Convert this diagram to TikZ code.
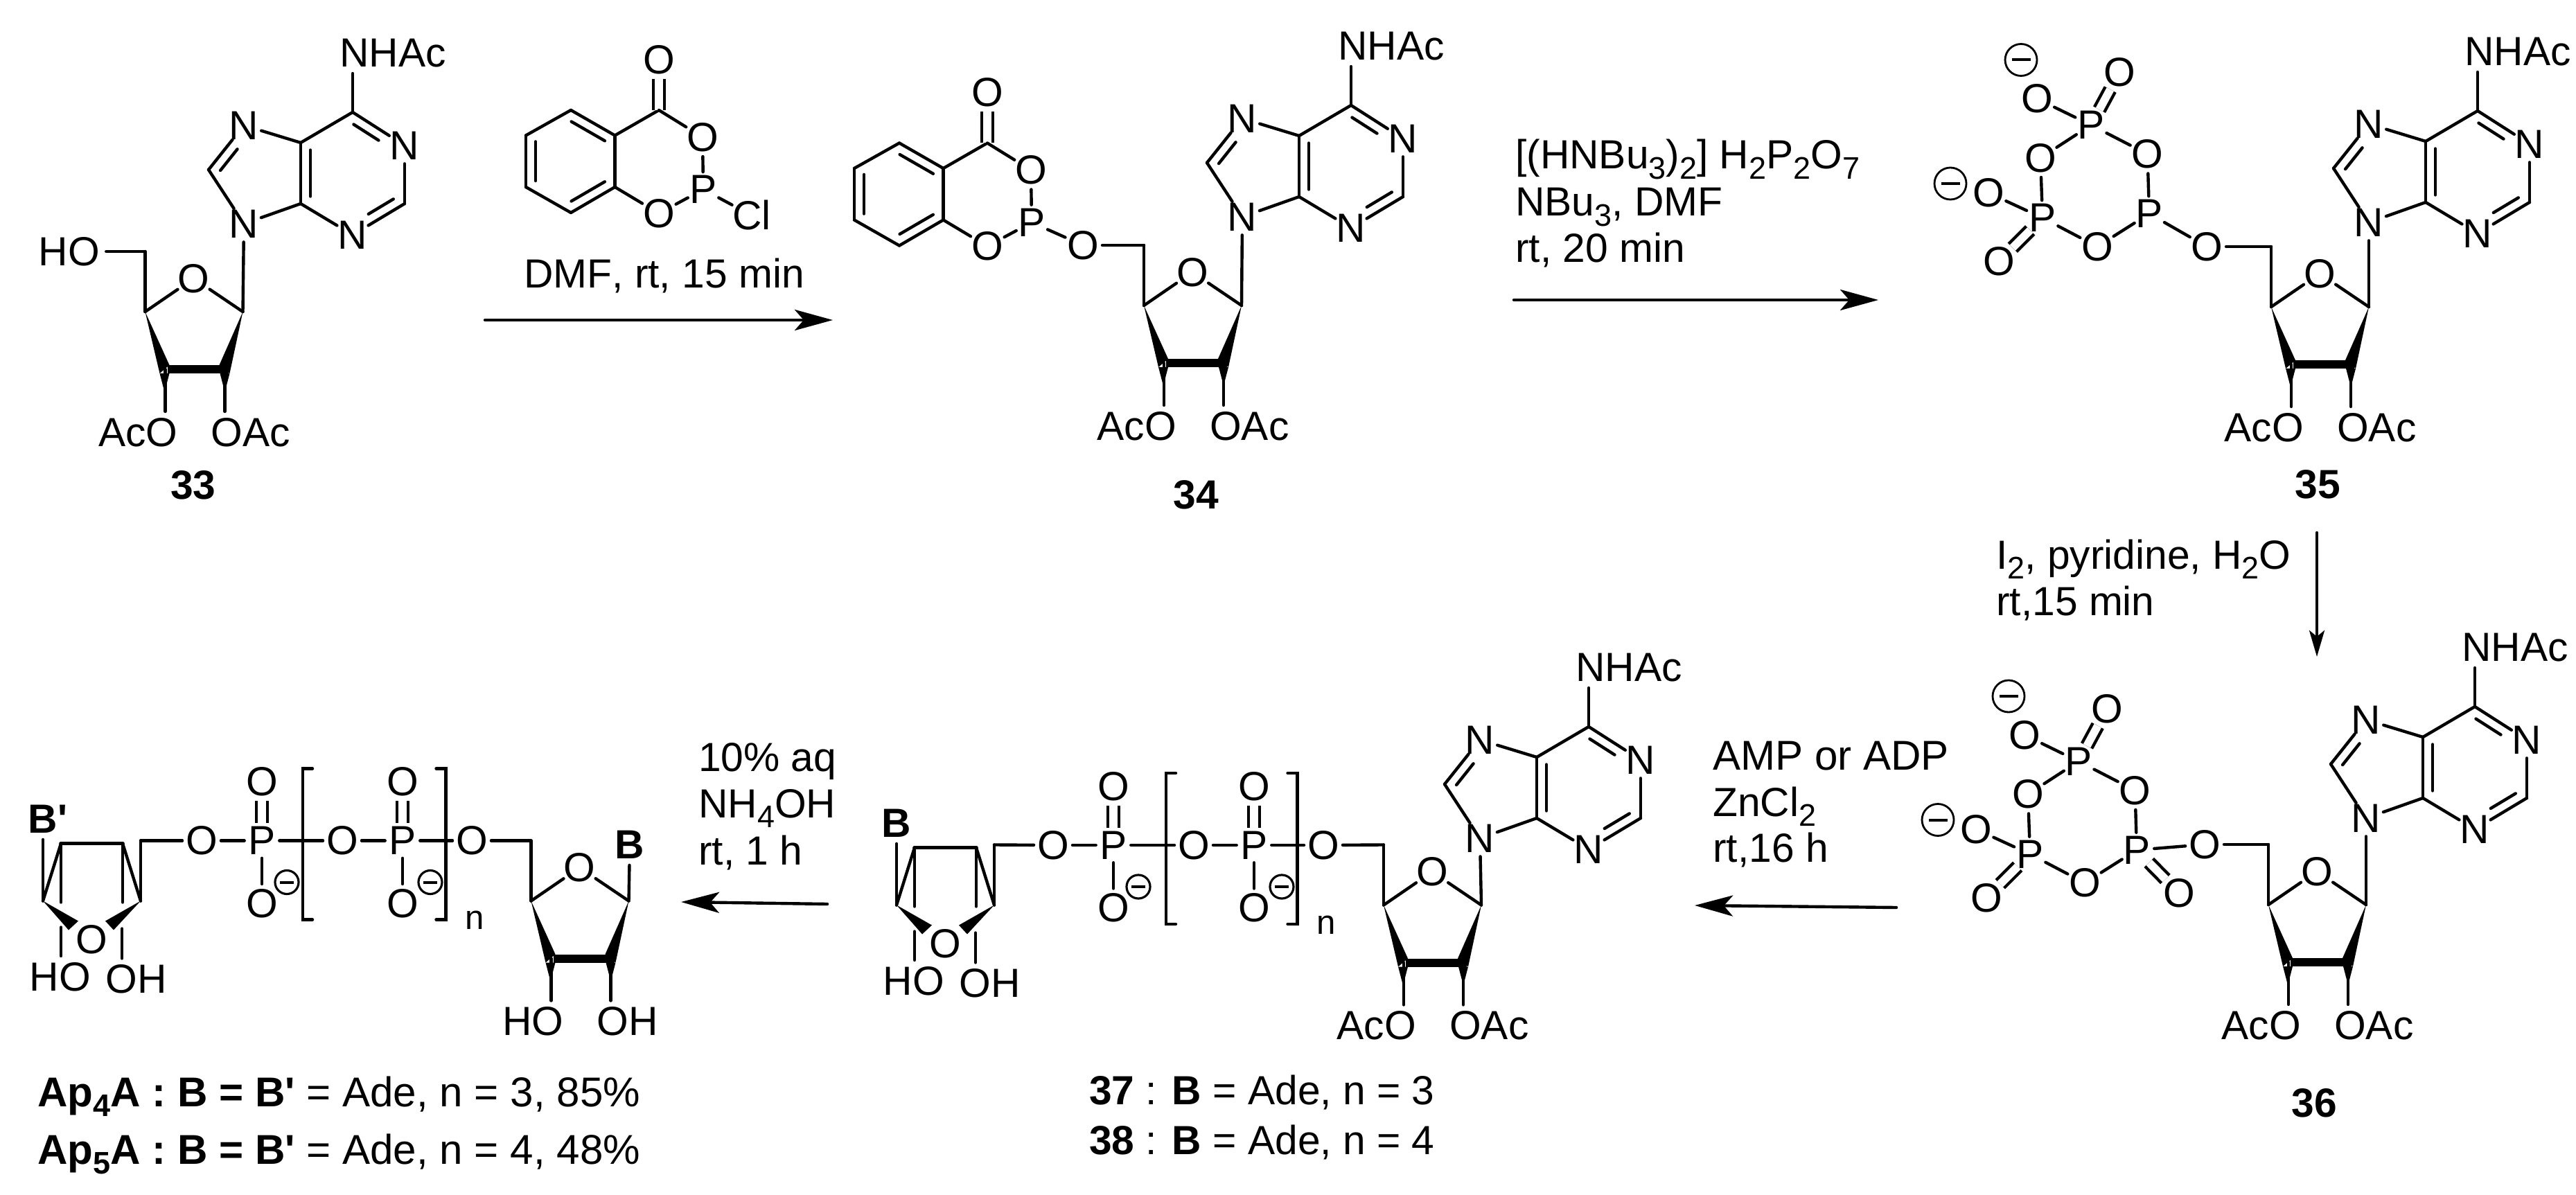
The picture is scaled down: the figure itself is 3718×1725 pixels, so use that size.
\documentclass[tikz,border=0pt]{standalone}
\usepackage{fontspec}
\setmainfont[Kerning=Off]{Liberation Sans}
\usetikzlibrary{arrows.meta,calc}

\newcommand{\bigfont}{\fontsize{16.7pt}{20pt}\selectfont}
\newcommand{\capfont}{\fontsize{17.1pt}{20pt}\selectfont}
\newcommand{\lowr}[1]{\raisebox{-.24em}{\fontsize{12.8pt}{14pt}\selectfont #1}}
\newcommand{\minusbar}[1]{\rule[-.02cm]{#1}{.04cm}}

\tikzset{
  atom/.style={circle,inner sep=0pt,outer sep=-.8pt,font=\bigfont},
  txt/.style={inner sep=2pt,font=\bigfont},
  rgt/.style={anchor=base west,inner sep=0pt,font=\bigfont},
  chgb/.style={circle,draw,inner sep=0pt,minimum size=.46cm,line width=.8pt},
  chgs/.style={circle,draw,inner sep=0pt,minimum size=.34cm,line width=.9pt},
  dbl/.style={double,double distance=3.3pt,line cap=butt}
}

% inner line of a double bond, on the right of a->b
\newcommand{\inbond}[3][.6]{\draw ($(#2)!.12!(#3)!.14cm!-90:(#3)$) -- ($(#2)!#1!(#3)!.14cm!-90:(#3)$);}

% name, position of N9
\newcommand{\adenine}[3]{
  \begin{scope}[shift={(#2,#3)}]
    \node[atom] (#1n9) at (0,0) {N};
    \node[atom] (#1n7) at (0,-142) {N};
    \node[atom] (#1n1) at (232,-113) {N};
    \node[atom] (#1n3) at (157,16) {N};
    \node[txt,anchor=south west] (#1ac) at (129,-217) {NHAc};
    \coordinate (#1c8) at (-51,-78);
    \coordinate (#1c4) at (82,-29);
    \coordinate (#1c5) at (82,-117);
    \coordinate (#1c6) at (157,-161);
    \coordinate (#1c2) at (232,-29);
    \path (#1n9) edge (#1c8)
          (#1c8) edge (#1n7)
          (#1n7) edge (#1c5)
          (#1c5) edge (#1c4)
                 edge (#1c6)
          (#1c4) edge (#1n9)
                 edge (#1n3)
          (#1n3) edge (#1c2)
          (#1c2) edge (#1n1)
          (#1n1) edge (#1c6)
          (#1c6) edge (#1c6 |- #1ac.south);
    \inbond{#1c6}{#1n1}
    \inbond{#1c2}{#1n3}
    \inbond[.88]{#1c4}{#1c5}
    \inbond{#1c8}{#1n7}
  \end{scope}}

% name, position of C1', the two lower labels
\newcommand{\ribose}[5]{
  \begin{scope}[shift={(#2,#3)}]
    \coordinate (#1c1) at (0,0);
    \coordinate (#1c4) at (-141,0);
    \coordinate (#1c5) at (-141,-87);
    \coordinate (#1c3) at (-112,83);
    \coordinate (#1c2) at (-26,83);
    \node[atom] (#1o) at (-71,-48) {O};
    \node[txt,anchor=east] (#1la) at (-85,174) {#4};
    \node[txt,anchor=west] (#1ra) at (-55,174) {#5};
    \fill (#1c4) -- (-120,89) -- (-106,77) -- cycle;
    \fill (#1c1) -- (-34,77) -- (-19,89) -- cycle;
    \fill (-109,77) rectangle (-21,89);
    \fill (-120,89) -- (-106,89) -- (-113,116) -- cycle;
    \fill (-33,89) -- (-19,89) -- (-26,116) -- cycle;
    \path (#1c4) edge (#1o)
                 edge (#1c5)
          (#1o) edge (#1c1)
          (#1c3) edge (#1c3 |- #1la.north)
          (#1c2) edge (#1c2 |- #1ra.north);
  \end{scope}}

% name, position of the top benzene corner
\newcommand{\phosphite}[3]{
  \begin{scope}[shift={(#2,#3)}]
    \coordinate (#1a) at (0,0);
    \coordinate (#1b) at (63.5,36.5);
    \coordinate (#1c) at (63.5,111);
    \coordinate (#1d) at (0,148);
    \coordinate (#1e) at (-65,111);
    \coordinate (#1f) at (-65,36.5);
    \coordinate (#1g) at (127,0);
    \node[atom] (#1oa) at (127,-73) {O};
    \node[atom] (#1ob) at (190,39) {O};
    \node[atom] (#1p) at (191,114.5) {P};
    \node[atom] (#1oc) at (127,149) {O};
    \path (#1a) edge (#1b)
          (#1b) edge (#1c)
                edge (#1g)
          (#1c) edge (#1d)
                edge (#1oc)
          (#1d) edge (#1e)
          (#1e) edge (#1f)
          (#1f) edge (#1a)
          (#1g) edge[dbl] (#1oa)
                edge (#1ob)
          (#1ob) edge (#1p)
          (#1p) edge (#1oc);
    \inbond[.88]{#1a}{#1b}
    \inbond[.88]{#1c}{#1d}
    \inbond[.88]{#1e}{#1f}
  \end{scope}}

% name, position of the P next to the sugar
\newcommand{\cyclo}[3]{
  \begin{scope}[shift={(#2,#3)}]
    \node[atom] (#1pa) at (0,0) {P};
    \node[atom] (#1pb) at (-84,-128) {P};
    \node[atom] (#1pc) at (-154,6) {P};
    \node[atom] (#1oa) at (-2.5,-86) {O};
    \node[atom] (#1ob) at (-157,-80.5) {O};
    \node[atom] (#1oc) at (-75,47.5) {O};
    \node[atom] (#1od) at (-43,-204) {O};
    \node[atom] (#1oe) at (-162,-166) {O};
    \node[atom] (#1of) at (-232,-30) {O};
    \node[atom] (#1og) at (-217,69) {O};
    \node[chgb] (#1ma) at (-185,-222) {\minusbar{.27cm}};
    \node[chgb] (#1mb) at (-287,-43.5) {\minusbar{.27cm}};
    \path (#1pa) edge (#1oa)
                 edge (#1oc)
          (#1pb) edge (#1oa)
                 edge (#1ob)
                 edge[dbl] (#1od)
                 edge (#1oe)
          (#1pc) edge (#1ob)
                 edge (#1oc)
                 edge (#1of)
                 edge[dbl] (#1og);
  \end{scope}}

% name, position of the first O, left bracket
\newcommand{\chain}[4]{
  \begin{scope}[shift={(#2,#3)}]
    \node[atom] (#1oa) at (0,0) {O};
    \node[atom] (#1pa) at (87,0) {P};
    \node[atom] (#1ob) at (203,0) {O};
    \node[atom] (#1pb) at (290,0) {P};
    \node[atom] (#1oc) at (390,0) {O};
    \node[atom] (#1ua) at (87,-85) {O};
    \node[atom] (#1da) at (87,90.5) {O};
    \node[atom] (#1ub) at (290,-85) {O};
    \node[atom] (#1db) at (290,90.5) {O};
    \node[chgs] (#1ma) at (123,60) {\minusbar{.2cm}};
    \node[chgs] (#1mb) at (330,60) {\minusbar{.2cm}};
    \node[inner sep=0pt,font=\fontsize{14pt}{16pt}\selectfont] (#1n) at (394,115) {n};
    \path (#1oa) edge (#1pa)
          (#1pa) edge (#1ob)
                 edge[dbl] (#1ua)
                 edge (#1da)
          (#1ob) edge (#1pb)
          (#1pb) edge (#1oc)
                 edge[dbl] (#1ub)
                 edge (#1db);
    \draw ({#4+14},-104) -- (#4,-104) -- (#4,114) -- ({#4+14},114);
    \draw (338.5,-104) -- (352.5,-104) -- (352.5,114) -- (338.5,114);
  \end{scope}}

% name, position of the left corner, label above it
\newcommand{\flipsugar}[4]{
  \begin{scope}[shift={(#2,#3)}]
    \coordinate (#1a) at (0,0);
    \coordinate (#1b) at (141,0);
    \coordinate (#1c) at (141,-87);
    \coordinate (#1d) at (26,-83);
    \coordinate (#1e) at (115,-83);
    \coordinate (#1f) at (26,38);
    \coordinate (#1g) at (114,40);
    \node[txt,font=\bigfont\bfseries] (#1bs) at (0,-118) {\phantom{B}};
    \node[txt,font=\bigfont\bfseries,anchor=west] (#1bl) at (#1bs.west) {#4};
    \node[atom] (#1o) at (70,56) {O};
    \node[txt] (#1ho) at (25,109.5) {HO};
    \node[txt] (#1oh) at (135,113) {OH};
    \fill (#1a) -- (37,42) -- (51,29) -- cycle;
    \fill (#1b) -- (90,29) -- (102,42) -- cycle;
    \path (#1a) edge (#1bs)
                edge (#1d)
          (#1b) edge (#1c)
                edge (#1e)
          (#1d) edge[line width=1.6pt] (#1e)
                edge (26,2)
          (#1e) edge (115,2)
          (#1f) edge (#1f |- #1ho.north)
          (#1g) edge (#1g |- #1oh.north);
  \end{scope}}

\begin{document}
\begin{tikzpicture}[x=.01cm,y=-.01cm,line width=1.25pt,line cap=round,
  >={Stealth[length=.55cm,width=.3cm,inset=.13cm]}]

  \useasboundingbox (0,0) rectangle (3718,1725);

  % 33
  \adenine{a33}{352}{323}
  \ribose{r33}{350.5}{450}{AcO}{OAc}
  \node[txt] (ho33) at (100,363) {HO};
  \node[rgt,anchor=base,font=\bigfont\bfseries] (num33) at (279,721) {33};
  \path (a33n9) edge (r33c1)
        (ho33) edge (r33c5);

  % reagent and first arrow
  \phosphite{pr}{824}{159}
  \node[atom] (cl) at (1085,311) {Cl};
  \path (prp) edge (cl);
  \node[rgt] (cond1) at (754,416) {DMF, rt, 15 min};
  \coordinate (ar1s) at (700,462);
  \coordinate (ar1e) at (1202,462);
  \draw[->] (ar1s) -- (ar1e);

  % 34
  \adenine{a34}{1793}{313}
  \ribose{r34}{1792}{441}{AcO}{OAc}
  \phosphite{p34}{1298}{206.5}
  \node[atom] (o34) at (1563,354) {O};
  \node[rgt,anchor=base,font=\bigfont\bfseries] (num34) at (1726.5,735) {34};
  \path (a34n9) edge (r34c1)
        (p34p) edge (o34)
        (o34) edge (r34c5);

  % second arrow
  \node[rgt] (cond2a) at (2185,244) {[(HNBu\lowr{3})\lowr{2}] H\lowr{2}P\lowr{2}O\lowr{7}};
  \node[rgt] (cond2b) at (2185,312) {NBu\lowr{3}, DMF};
  \node[rgt] (cond2c) at (2185,379) {rt, 20 min};
  \coordinate (ar2s) at (2185,433);
  \coordinate (ar2e) at (2711,433);
  \draw[->] (ar2s) -- (ar2e);

  % 35
  \adenine{a35}{3419}{321}
  \ribose{r35}{3419}{443}{AcO}{OAc}
  \cyclo{c35}{3102}{308.5}
  \node[atom] (o35) at (3185,356) {O};
  \node[rgt,anchor=base,font=\bigfont\bfseries] (num35) at (3345.6,720) {35};
  \path (a35n9) edge (r35c1)
        (c35pa) edge (o35)
        (o35) edge (r35c5);

  % third arrow
  \node[rgt] (cond3a) at (2879,821) {I\lowr{2}, pyridine, H\lowr{2}O};
  \node[rgt] (cond3b) at (2879,888.5) {rt,15 min};
  \coordinate (ar3s) at (3344,769);
  \coordinate (ar3e) at (3344,948);
  \draw[-{Stealth[length=.38cm,width=.22cm,inset=.09cm]}] (ar3s) -- (ar3e);

  % 36
  \adenine{a36}{3415}{1181}
  \ribose{r36}{3415}{1306}{AcO}{OAc}
  \cyclo{c36}{3084}{1227}
  \node[atom] (o36) at (3182,1219) {O};
  \node[atom] (od36) at (3145,1289) {O};
  \node[rgt,anchor=base,font=\bigfont\bfseries] (num36) at (3340,1612) {36};
  \path (a36n9) edge (r36c1)
        (c36pa) edge (o36)
                edge[dbl] (od36)
        (o36) edge (r36c5);

  % fourth arrow
  \node[rgt,font=\capfont] (cond4a) at (2470,1111.5) {AMP or ADP};
  \node[rgt] (cond4b) at (2470,1178) {ZnCl\lowr{2}};
  \node[rgt] (cond4c) at (2470,1244) {rt,16 h};
  \coordinate (ar4s) at (2737,1310);
  \coordinate (ar4e) at (2446,1307);
  \draw[->] (ar4s) -- (ar4e);

  % 37 and 38
  \adenine{a37}{2136}{1210}
  \ribose{r37}{2138}{1306.5}{AcO}{OAc}
  \chain{b37}{1520}{1220}{163}
  \flipsugar{s37}{1294}{1306.5}{B}
  \node[rgt] (cap37) at (1570,1594) {\textbf{37} : \textbf{B} = Ade, n = 3};
  \node[rgt] (cap38) at (1570,1666) {\textbf{38} : \textbf{B} = Ade, n = 4};
  \path (a37n9) edge (r37c1)
        (b37oc) edge (r37c5)
        (s37c) edge (b37oa);

  % fifth arrow
  \node[rgt] (cond5a) at (1006,1113) {10\% aq};
  \node[rgt] (cond5b) at (1006,1180) {NH\lowr{4}OH};
  \node[rgt] (cond5c) at (1006,1248) {rt, 1 h};
  \coordinate (ar5s) at (1194,1305);
  \coordinate (ar5e) at (983,1302);
  \draw[->] (ar5s) -- (ar5e);

  % Ap4A and Ap5A
  \ribose{r40}{907.5}{1300.5}{HO}{OH}
  \chain{b40}{291}{1213.5}{146}
  \flipsugar{s40}{62}{1300.5}{B\textquotesingle}
  \node[txt,font=\bigfont\bfseries] (bs40) at (909,1219.5) {B};
  \node[rgt,font=\capfont] (capa) at (52,1597.5) {\textbf{Ap\lowr{4}A : B = B\textquotesingle} = Ade, n = 3, 85\%};
  \node[rgt,font=\capfont] (capb) at (52,1680.5) {\textbf{Ap\lowr{5}A : B = B\textquotesingle} = Ade, n = 4, 48\%};
  \path (r40c1) edge (bs40)
        (b40oc) edge (r40c5)
        (s40c) edge (b40oa);

\end{tikzpicture}
\end{document}
